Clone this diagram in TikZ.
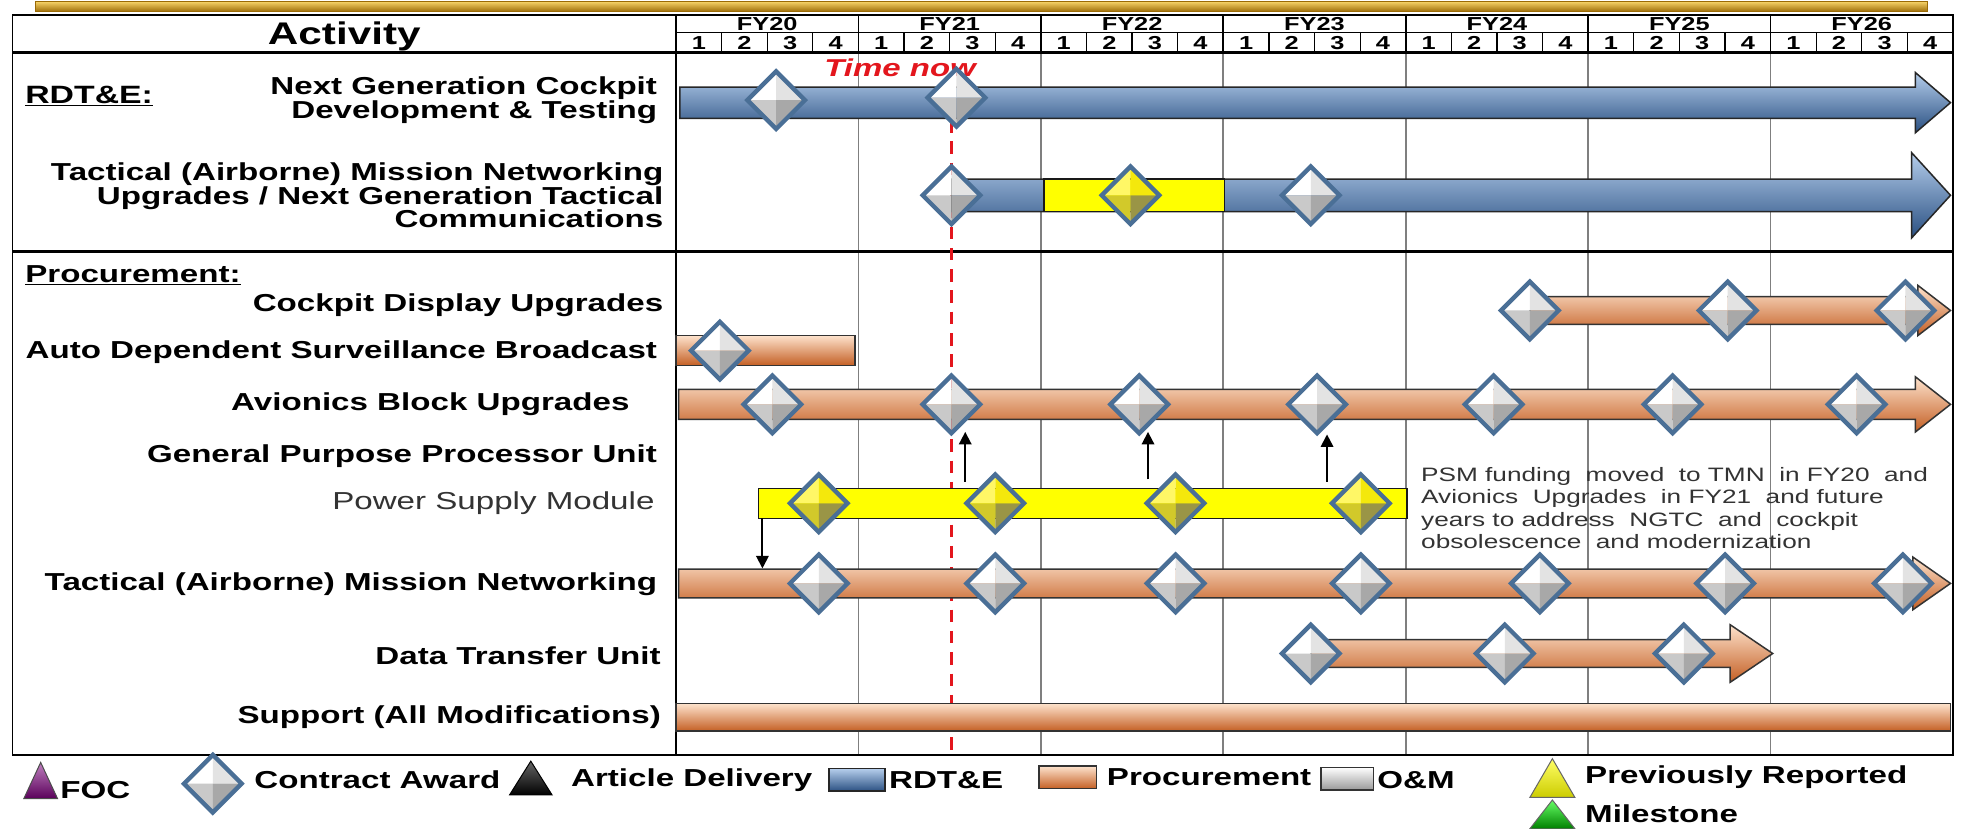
\documentclass[tikz,border=0pt]{standalone}
\usepackage{fontspec}
\setmainfont{Liberation Sans}[FakeStretch=1.35]
\usetikzlibrary{arrows.meta}
\definecolor{dborder}{HTML}{4A6F96}
\definecolor{blueL}{HTML}{B4CDEB}
\definecolor{blueM}{HTML}{4F81BD}
\definecolor{blueD}{HTML}{2A5082}
\definecolor{orL}{HTML}{FDE2CC}
\definecolor{orM}{HTML}{F4A06A}
\definecolor{orD}{HTML}{C45F24}
\definecolor{goldL}{HTML}{F9D56A}
\definecolor{goldM}{HTML}{E0A012}
\definecolor{goldD}{HTML}{9A6A06}
\definecolor{gridgray}{HTML}{7F7F7F}
\definecolor{tnred}{HTML}{E3161D}
\definecolor{ylw}{HTML}{FFFF00}
\newcommand\dfacets[4]{%
  \fill[#1] (0,0) -- (-23,0) -- (0,-23) -- cycle;
  \fill[#2] (0,0) -- (0,-23) -- (23,0) -- cycle;
  \fill[#3] (0,0) -- (-23,0) -- (0,23) -- cycle;
  \fill[#4] (0,0) -- (23,0) -- (0,23) -- cycle;
  \draw[dborder, line width=3.5pt, line join=miter] (-23,0) -- (0,-23) -- (23,0) -- (0,23) -- cycle;}
\newcommand\garrow[7]{%
  \path[#7] (#1,{#3-#4}) -- (#5,{#3-#4}) -- (#5,{#3-#6}) -- (#2,#3) -- (#5,{#3+#6}) -- (#5,{#3+#4}) -- (#1,{#3+#4}) -- cycle;}
\tikzset{
  pics/cdia/.style={code={\dfacets{white}{gray!22}{gray!42}{gray!68}}},
  pics/ydia/.style={code={\dfacets{yellow!60!white}{yellow!95!black}{yellow!80!black}{yellow!55!black}}},
  bluebar/.style={draw=black!85, line width=1.2pt, top color=blueL, middle color=blueM, bottom color=blueD},
  orbar/.style={draw=black!80, line width=1.2pt, top color=orL, middle color=orM, bottom color=orD},
  ylwbar/.style={draw=black!90, line width=1.2pt, fill=ylw},
  lbl/.style={font=\fontsize{19.6}{19}\selectfont\bfseries, inner sep=0pt, align=right, anchor=east},
  hdr/.style={font=\fontsize{15}{15}\selectfont\bfseries, inner sep=0pt},
  leg/.style={font=\fontsize{19.6}{20}\selectfont\bfseries, inner sep=0pt, anchor=west},
  smarrow/.style={line width=1.5pt, -{Triangle[width=10pt,length=10pt]}},
}
\begin{document}
\begin{tikzpicture}[x=1pt,y=-1pt]
\useasboundingbox (0,0) rectangle (1568,662);
\fill[white] (0,0) rectangle (1568,662);
% gold bar
\path[draw=goldD, line width=0.8pt, top color=goldL, middle color=goldM, bottom color=goldD] (28,1) rectangle (1540,9.5);
% grid
\foreach \i in {1,...,6} {
  \draw[gridgray, line width=1.5pt] ({540+145.71*\i},42) -- ({540+145.71*\i},603);
  \draw[black, line width=1.3pt] ({540+145.71*\i},12) -- ({540+145.71*\i},42);
}
\foreach \q in {1,...,27} \draw[black, line width=1pt] ({540+36.43*\q},26) -- ({540+36.43*\q},42);
\draw[line width=1.5pt] (10,12) rectangle (1560,603);
\draw[line width=1.5pt] (540,12) -- (540,603);
\draw[line width=1.2pt] (540,26) -- (1560,26);
\draw[line width=2pt] (10,42) -- (1560,42);
\draw[line width=2pt] (10,201) -- (1560,201);
% header text
\node[font=\fontsize{25}{25}\selectfont\bfseries, inner sep=0pt] (act) at (275,29) {Activity};
\foreach \y [count=\i from 0] in {20,...,26}
  \node[hdr] (fy\y) at ({540+145.71*(\i+0.5)},19.5) {FY\y};
\foreach \q in {0,...,27} {
  \pgfmathtruncatemacro\qn{mod(\q,4)+1}
  \node[hdr] (q\q) at ({540+36.43*(\q+0.5)},34.5) {\qn};
}
% time now
\draw[tnred, line width=3pt, dash pattern=on 10pt off 7pt] (760,62) -- (760,603);
\node[font=\fontsize{19.5}{19.5}\selectfont\bfseries\itshape, text=tnred, inner sep=0pt] (tnow) at (719,54) {Time now};
% left labels
\node[font=\fontsize{20}{20}\selectfont\bfseries, inner sep=0pt, anchor=west] (rdte) at (20,77) {\underline{RDT\&E:}};
\node[lbl] (l1) at (525,80) {Next Generation Cockpit\\Development \& Testing};
\node[lbl] (l2) at (530,156) {Tactical (Airborne) Mission Networking\\Upgrades / Next Generation Tactical\\Communications};
\node[font=\fontsize{19.6}{20}\selectfont\bfseries, inner sep=0pt, anchor=west] (proc) at (20,220) {\underline{Procurement:}};
\node[lbl] (l3) at (530,244) {Cockpit Display Upgrades};
\node[lbl] (l4) at (525,281) {Auto Dependent Surveillance Broadcast};
\node[lbl] (l5) at (503,323) {Avionics Block Upgrades};
\node[lbl] (l6) at (525,364) {General Purpose Processor Unit};
\node[lbl, font=\fontsize{19.6}{19}\selectfont, text=black!80] (l7) at (523,402) {Power Supply Module};
\node[lbl] (l8) at (525,467) {Tactical (Airborne) Mission Networking};
\node[lbl] (l9) at (528,524) {Data Transfer Unit};
\node[lbl] (l10) at (528,573) {Support (All Modifications)};
% row 1
\garrow{543}{1558}{82}{12.5}{1530}{24}{bluebar}
\pic at (620,80) {cdia};
\pic at (764,78) {cdia};
% row 2
\garrow{760}{1558}{156}{13}{1527}{34}{bluebar}
\path[ylwbar] (834,143) rectangle (978,169);
\pic at (760,156) {cdia};
\pic at (903,156) {ydia};
\pic at (1047,156) {cdia};
% cockpit display
\garrow{1222}{1558}{248}{11}{1532}{20}{orbar}
\foreach \x in {1222,1380,1522} \pic at (\x,248) {cdia};
% ADSB
\path[orbar] (540,268) rectangle (683,292);
\pic at (575,280) {cdia};
% avionics
\garrow{542}{1558}{323}{12}{1530}{22}{orbar}
\foreach \x in {617,760,910,1052,1193,1336,1483} \pic at (\x,323) {cdia};
% PSM
\path[ylwbar] (606,390) rectangle (1124,414);
\foreach \x in {654,795,939,1087} \pic at (\x,402) {ydia};
% TMN
\garrow{542}{1558}{466}{11.5}{1528}{21}{orbar}
\foreach \x in {654,795,939,1087,1230,1378,1520} \pic at (\x,466) {cdia};
% DTU
\garrow{1047}{1416}{522}{11}{1382}{23}{orbar}
\foreach \x in {1047,1202,1345} \pic at (\x,522) {cdia};
% support
\path[orbar] (540,562) rectangle (1558,584);
% small arrows
\coordinate (ua1) at (771,385); \coordinate (ub1) at (771,345);
\coordinate (ua2) at (917,383); \coordinate (ub2) at (917,345);
\coordinate (ua3) at (1060,385); \coordinate (ub3) at (1060,347);
\coordinate (da) at (609,414); \coordinate (db) at (609,454);
\draw[smarrow] (ua1) -- (ub1);
\draw[smarrow] (ua2) -- (ub2);
\draw[smarrow] (ua3) -- (ub3);
\draw[smarrow] (da) -- (db);
% annotation
\node[font=\fontsize{15.5}{18}\selectfont, text=black!80, inner sep=0pt, anchor=north west, align=left] (note) at (1135,373)
  {PSM funding\ \ moved\ \ to TMN\ \ in FY20\ \ and\\Avionics\ \ Upgrades\ \ in FY21\ \ and future\\years to address\ \ NGTC\ \ and\ \ cockpit\\obsolescence\ \ and modernization};
% legend
\path[draw=black!70, line width=0.8pt, top color=violet!50!white, bottom color=violet!70!black] (19,638) -- (46,638) -- (32.5,609) -- cycle;
\node[leg] (lfoc) at (48,631) {FOC};
\pic at (170,626) {cdia};
\node[leg] (lca) at (203,623) {Contract Award};
\path[draw=black, line width=0.8pt, top color=black!60, bottom color=black] (407,635) -- (441,635) -- (424,608) -- cycle;
\node[leg] (lad) at (456,623) {Article Delivery};
\path[bluebar] (662,614) rectangle (707,632);
\node[leg] (lrd) at (710,623) {RDT\&E};
\path[orbar] (830,612) rectangle (876,630);
\node[leg] (lpr) at (884,621) {Procurement};
\path[draw=black!80, line width=1.2pt, top color=white, middle color=gray!40, bottom color=gray!80] (1055,613) rectangle (1097,631);
\node[leg] (lom) at (1100,623) {O\&M};
\path[draw=black!60, line width=0.8pt, top color=yellow!60!white, bottom color=yellow!80!black] (1222,637) -- (1258,637) -- (1240,606) -- cycle;
\node[leg] (lprev) at (1266,621) {Previously Reported};
\path[draw=black!60, line width=0.8pt, top color=green!60!white, bottom color=green!50!black] (1222,662) -- (1258,662) -- (1240,639) -- cycle;
\node[leg] (lms) at (1266,650) {Milestone};
\end{tikzpicture}
\end{document}
